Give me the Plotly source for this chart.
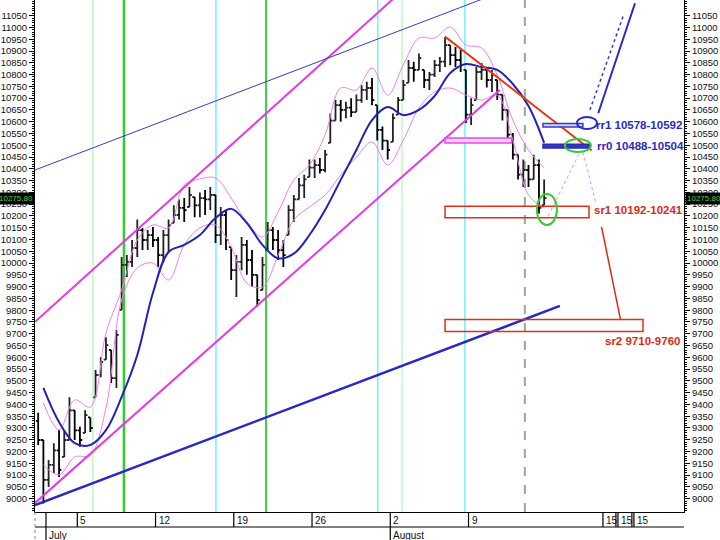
import plotly.graph_objects as go

# ---------------- data ----------------
# intraday bars, three per trading day; day 0 = July 1
bar_open = [9330, 9249, 9080, 9143, 9205, 9177, 9249, 9375, 9290, 9279,
            9345, 9430, 9525, 9590, 9631, 9512, 9801, 9992, 10005, 10064,
            10140, 10098, 10119, 10098, 10034, 10119, 10170, 10204, 10234, 10238,
            10280, 10245, 10276, 10270, 10289, 10119, 10204, 10068, 9970, 10005,
            10077, 10013, 9950, 9885, 10055, 10140, 10098, 10055, 10119, 10225,
            10270, 10330, 10365, 10405, 10416, 10395, 10510, 10605, 10670, 10650,
            10660, 10641, 10692, 10735, 10743, 10670, 10565, 10520, 10514, 10630,
            10692, 10765, 10828, 10820, 10820, 10777, 10800, 10840, 10855, 10925,
            10883, 10862, 10820, 10630, 10692, 10811, 10820, 10777, 10777, 10715,
            10650, 10545, 10460, 10375, 10395, 10355, 10416, 10246]
bar_high = [9365, 9249, 9164, 9235, 9290, 9290, 9430, 9375, 9305, 9375,
            9345, 9546, 9600, 9685, 9631, 9716, 10026, 10034, 10098, 10185,
            10149, 10140, 10153, 10111, 10140, 10185, 10245, 10270, 10276, 10323,
            10280, 10300, 10310, 10323, 10289, 10238, 10225, 10068, 10034, 10111,
            10098, 10055, 9950, 10026, 10174, 10153, 10140, 10098, 10245, 10289,
            10361, 10375, 10440, 10440, 10446, 10480, 10635, 10692, 10692, 10685,
            10700, 10715, 10755, 10770, 10785, 10670, 10580, 10520, 10635, 10705,
            10777, 10862, 10855, 10890, 10820, 10811, 10862, 10875, 10960, 10925,
            10917, 10905, 10820, 10700, 10832, 10849, 10832, 10820, 10777, 10715,
            10650, 10552, 10460, 10440, 10416, 10460, 10440, 10355]
bar_low = [9228, 8980, 9050, 9109, 9092, 9177, 9249, 9249, 9220, 9279,
           9283, 9430, 9515, 9590, 9491, 9470, 9801, 9941, 9983, 10026,
           10055, 10055, 10068, 9983, 10005, 10043, 10170, 10185, 10174, 10238,
           10195, 10195, 10204, 10225, 10085, 10077, 10055, 9928, 9856, 9970,
           9950, 9900, 9815, 9885, 10055, 10055, 10013, 9983, 10119, 10174,
           10270, 10276, 10365, 10361, 10380, 10385, 10510, 10605, 10600, 10615,
           10620, 10641, 10680, 10692, 10670, 10520, 10480, 10440, 10514, 10630,
           10692, 10765, 10770, 10820, 10743, 10735, 10790, 10811, 10832, 10840,
           10832, 10811, 10595, 10586, 10692, 10777, 10745, 10726, 10692, 10605,
           10520, 10440, 10355, 10323, 10323, 10355, 10210, 10246]
bar_close = [9249, 9080, 9143, 9205, 9122, 9249, 9375, 9290, 9249, 9355,
             9300, 9525, 9580, 9652, 9512, 9695, 9992, 10005, 10064, 10140,
             10098, 10119, 10098, 10034, 10119, 10160, 10204, 10234, 10225, 10289,
             10245, 10276, 10270, 10289, 10119, 10204, 10098, 9970, 10005, 10077,
             10013, 9950, 9843, 9992, 10140, 10098, 10055, 10034, 10225, 10270,
             10330, 10355, 10405, 10416, 10395, 10460, 10605, 10670, 10650, 10660,
             10641, 10692, 10735, 10743, 10692, 10565, 10520, 10480, 10615, 10692,
             10755, 10828, 10820, 10870, 10777, 10800, 10840, 10855, 10925, 10883,
             10862, 10840, 10630, 10670, 10811, 10820, 10777, 10800, 10715, 10650,
             10545, 10460, 10375, 10395, 10355, 10416, 10234, 10275.8]
bars_per_day = 3

# moving average and envelope bands, one sample per day
ma_values = [9470, 9325, 9236, 9228, 9291, 9432, 9610, 9873, 10047, 10077,
             10119, 10191, 10230, 10170, 10077, 10020, 10040, 10119, 10225, 10353,
             10480, 10607, 10662, 10628, 10650, 10709, 10807, 10845, 10832, 10820,
             10760, 10667, 10510]
band_upper = [9406, 9292, 9419, 9389, 9703, 9886, 10098, 10162, 10149, 10331,
              10357, 10361, 10276, 10174, 10111, 10217, 10353, 10416, 10544, 10743,
              10735, 10828, 10713, 10841, 10955, 10955, 11002, 10926, 10913, 10798,
              10607, 10480, 10404]
band_lower = [9143, 9101, 9177, 9185, 9385, 9843, 9979, 10000, 9928, 10077,
              10149, 10162, 10068, 9915, 9898, 10034, 10183, 10238, 10289, 10374,
              10450, 10514, 10416, 10522, 10658, 10726, 10743, 10713, 10692, 10713,
              10522, 10289, 10234]

last_price = 10275.8

# trend lines: (day, price) endpoints
pink_upper_days, pink_upper_prices = [-0.7, 24.0], [9751, 11230]
pink_lower_days, pink_lower_prices = [-0.7, 29.0], [8982, 10735]
blue_low_days, blue_low_prices = [-0.7, 32.84], [8973, 9818]
blue_thin_days, blue_thin_prices = [-0.7, 29.0], [10395, 11149]
red_top_days, red_top_prices = [25.5, 34.87], [10961, 10478]
red_down_days, red_down_prices = [35.5, 36.72], [10154, 9758]
blue_right_days, blue_right_prices = [35.29, 37.64], [10636, 11103]
blue_dot_days, blue_dot_prices = [34.76, 36.93], [10650, 11057]
pink_dot_a_days, pink_dot_a_prices = [32.1, 34.12], [10200, 10471]
pink_dot_b_days, pink_dot_b_prices = [34.31, 35.14], [10471, 10255]

# zones
zone_labels = ["rr1 10578-10592", "rr0 10488-10504", "sr1 10192-10241", "sr2 9710-9760"]
zone_low = [10578, 10488, 10192, 9710]
zone_high = [10592, 10504, 10241, 9760]
zone_start = [31.76, 31.76, 25.5, 25.5]
zone_end = [34.31, 34.76, 34.7, 38.15]
zone_label_day = [35.02, 35.08, 34.89, 35.6]
zone_label_price = [10586, 10497, 10225, 9669]
pink_zone = [25.5, 29.76, 10510, 10531]

# cycle lines (day positions)
vline_days = [3.0, 4.98, 10.86, 14.06, 21.2, 22.75, 26.77, 30.6]
vline_colors = ["#a8eea8", "#33cc33", "#70f0ff", "#44cc44", "#70f0ff", "#a8eea8", "#70f0ff", "#99a899"]
vline_widths = [1, 2.5, 1.5, 2, 1.5, 1, 1.5, 2]
vline_dash = ["solid", "solid", "solid", "solid", "solid", "solid", "solid", "dash"]

# x axis ticks
x_tick_days = [0, 2, 7, 12, 17, 22, 27, 35.59, 36.55, 37.57]
x_tick_text = ["", "5", "12", "19", "26", "2", "9", "15", "15", "15"]
month_days = [0, 22]
month_text = ["July", "August"]

y_tick_values = list(range(9000, 11051, 50))
y_range = [8943.4, 11116.6]
x_range = [-0.703, 40.77]

# ---------------- figure ----------------
bar_days = [-0.5 + k / bars_per_day for k in range(len(bar_close))]
ma_days = [-1 / 6 + m for m in range(len(ma_values))]

fig = go.Figure()

fig.add_trace(go.Scatter(x=ma_days, y=band_upper, mode="lines",
                         line=dict(color="#ee80ee", width=1, shape="spline"), hoverinfo="skip"))
fig.add_trace(go.Scatter(x=ma_days, y=band_lower, mode="lines",
                         line=dict(color="#ee80ee", width=1, shape="spline"), hoverinfo="skip"))

for dx, py, col, w, dash in [
    (pink_upper_days, pink_upper_prices, "#e23ce2", 2, "solid"),
    (pink_lower_days, pink_lower_prices, "#e23ce2", 2, "solid"),
    (blue_low_days, blue_low_prices, "#2828c4", 2.5, "solid"),
    (blue_thin_days, blue_thin_prices, "#3838d0", 1, "solid"),
]:
    fig.add_trace(go.Scatter(x=dx, y=py, mode="lines", line=dict(color=col, width=w, dash=dash),
                             hoverinfo="skip"))

fig.add_trace(go.Scatter(x=ma_days, y=ma_values, mode="lines",
                         line=dict(color="#2222b8", width=2, shape="spline"), hoverinfo="skip"))

fig.add_trace(go.Ohlc(
    x=bar_days, open=bar_open, high=bar_high, low=bar_low, close=bar_close,
    increasing=dict(line=dict(color="#222222", width=1.8)),
    decreasing=dict(line=dict(color="#000000", width=1.8)),
    tickwidth=0.45, hoverinfo="skip"))

for dx, py, col, w, dash in [
    (red_top_days, red_top_prices, "#e43c10", 2, "solid"),
    (red_down_days, red_down_prices, "#e02a10", 1.5, "solid"),
    (blue_right_days, blue_right_prices, "#2a2ac8", 2, "solid"),
    (blue_dot_days, blue_dot_prices, "#3a3ad8", 1.5, "dot"),
    (pink_dot_a_days, pink_dot_a_prices, "#ee88ee", 1, "dot"),
    (pink_dot_b_days, pink_dot_b_prices, "#ee88ee", 1, "dot"),
]:
    fig.add_trace(go.Scatter(x=dx, y=py, mode="lines", line=dict(color=col, width=w, dash=dash),
                             hoverinfo="skip"))

# invisible trace for left axis
fig.add_trace(go.Scatter(x=[x_range[0]], y=[y_range[0]], yaxis="y2", mode="markers",
                         marker=dict(opacity=0), hoverinfo="skip"))

shapes = []
for d, c, w, ds in zip(vline_days, vline_colors, vline_widths, vline_dash):
    shapes.append(dict(type="line", xref="x", yref="paper", x0=d, x1=d, y0=0, y1=1,
                       line=dict(color=c, width=w, dash=ds), layer="below"))

# zones
zone_line = ["#3a3ac8", "#2a2ab8", "#e03018", "#e03018"]
zone_fill = ["rgba(210,210,255,0.9)", "#3434c0", "rgba(0,0,0,0)", "rgba(0,0,0,0)"]
for i in range(len(zone_labels)):
    shapes.append(dict(type="rect", xref="x", yref="y", x0=zone_start[i], x1=zone_end[i],
                       y0=zone_low[i], y1=zone_high[i], line=dict(color=zone_line[i], width=1.5),
                       fillcolor=zone_fill[i]))
shapes.append(dict(type="rect", xref="x", yref="y", x0=pink_zone[0], x1=pink_zone[1],
                   y0=pink_zone[2], y1=pink_zone[3], line=dict(color="#ee44ee", width=1.5),
                   fillcolor="#ffd6ff"))

# ellipses
shapes.append(dict(type="circle", xref="x", yref="y", x0=33.93, x1=35.21, y0=10569, y1=10620,
                   line=dict(color="#2a2ac8", width=2)))
shapes.append(dict(type="circle", xref="x", yref="y", x0=33.16, x1=34.82, y0=10471, y1=10527,
                   line=dict(color="#33cc33", width=2)))
shapes.append(dict(type="circle", xref="x", yref="y", x0=31.37, x1=32.65, y0=10162, y1=10293,
                   line=dict(color="#33cc33", width=2)))

# x-axis strip
strip_y = -15 / 512
month_y = -28 / 512
shapes.append(dict(type="line", xref="paper", yref="paper", x0=0, x1=1, y0=strip_y, y1=strip_y,
                   line=dict(color="#000", width=1)))
shapes.append(dict(type="line", xref="paper", yref="paper", x0=0, x1=0, y0=0, y1=month_y,
                   line=dict(color="#888", width=1, dash="dot")))
for d in x_tick_days:
    y_end = month_y if d in month_days else strip_y
    shapes.append(dict(type="line", xref="x", yref="paper", x0=d, x1=d, y0=0, y1=y_end,
                       line=dict(color="#000", width=1.2)))
shapes.append(dict(type="line", xref="x", yref="paper", x0=36.42, x1=36.42, y0=0, y1=strip_y,
                   line=dict(color="#000", width=1.2)))
shapes.append(dict(type="line", xref="x", yref="paper", x0=37.44, x1=37.44, y0=0, y1=strip_y,
                   line=dict(color="#000", width=1.2)))

annotations = []
for d, t in zip(x_tick_days, x_tick_text):
    if t:
        annotations.append(dict(x=d, xref="x", y=-0.002, yref="paper", text=t, showarrow=False,
                                xanchor="left", yanchor="top", xshift=1,
                                font=dict(family="Liberation Sans, Arial", size=10, color="#111")))
for d, t in zip(month_days, month_text):
    annotations.append(dict(x=d, xref="x", y=strip_y - 0.001, yref="paper", text=t, showarrow=False,
                            xanchor="left", yanchor="top", xshift=1,
                            font=dict(family="Liberation Sans, Arial", size=10, color="#111")))

label_colors = ["#2a2ac8", "#2a2ac8", "#e02a10", "#e02a10"]
for i, t in enumerate(zone_labels):
    annotations.append(dict(x=zone_label_day[i], xref="x", y=zone_label_price[i], yref="y", text="<b>" + t + "</b>",
                            showarrow=False, xanchor="left", yanchor="middle",
                            font=dict(family="Liberation Sans, Arial", size=11.5, color=label_colors[i])))

for xp, xa, xs in [(1, "left", 1), (0, "right", 0)]:
    annotations.append(dict(x=xp, xref="paper", y=last_price, yref="y", text=f"{last_price:.2f}",
                            showarrow=False, xanchor=xa, yanchor="middle", xshift=xs,
                            bgcolor="#000000", borderpad=1,
                            font=dict(family="Liberation Sans, Arial", size=8, color="#3ad43a")))

axis_font = dict(family="Liberation Sans, Arial", size=9.5, color="#111")
yaxis_common = dict(range=y_range, tickmode="array", tickvals=y_tick_values,
                    ticktext=[str(v) for v in y_tick_values], ticks="outside", ticklen=5,
                    tickcolor="#000", showline=True, linecolor="#000", linewidth=1,
                    showgrid=False, zeroline=False, tickfont=axis_font, automargin=False,
                    minor=dict(tickmode="linear", tick0=9000, dtick=10, ticks="outside",
                               ticklen=2, tickcolor="#000"),
                    fixedrange=True)

fig.update_layout(
    width=720, height=540,
    margin=dict(l=35, r=36, t=0, b=28),
    paper_bgcolor="#ffffff", plot_bgcolor="#ffffff",
    showlegend=False, hovermode=False,
    xaxis=dict(range=x_range, showline=True, linecolor="#000", linewidth=1, ticks="",
               showticklabels=False, showgrid=False, zeroline=False,
               rangeslider=dict(visible=False), fixedrange=True),
    yaxis=dict(side="right", **yaxis_common),
    yaxis2=dict(side="left", overlaying="y", **yaxis_common),
    shapes=shapes, annotations=annotations,
)

fig.write_html("out.html", config={"displayModeBar": False},
               post_script="document.body.style.margin='0';document.body.style.overflow='hidden';")
